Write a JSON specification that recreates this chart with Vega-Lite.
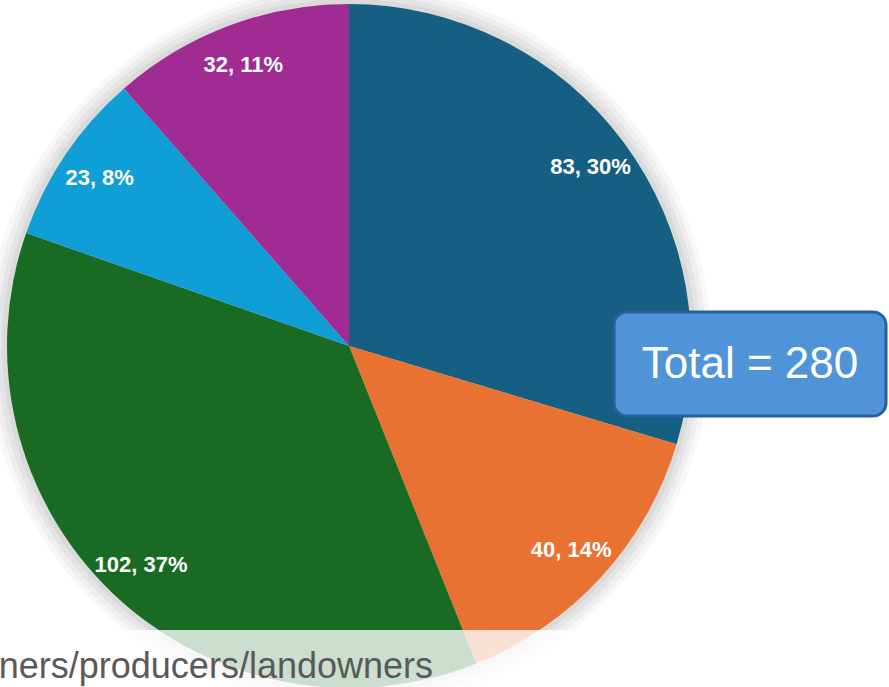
{
  "$schema": "https://vega.github.io/schema/vega-lite/v6.json",
  "width": 889,
  "height": 687,
  "padding": 0,
  "autosize": {"type": "none"},
  "background": "white",
  "config": {"view": {"stroke": null}},
  "layer": [
    {"data": {"values": [{}]}, "mark": {"type": "arc", "x": 349, "y": 346, "radius": 362, "theta": 0, "theta2": 6.2832, "fill": "black", "opacity": 0.03}, "encoding": {}},
    {"data": {"values": [{}]}, "mark": {"type": "arc", "x": 349, "y": 346, "radius": 357, "theta": 0, "theta2": 6.2832, "fill": "black", "opacity": 0.035}, "encoding": {}},
    {"data": {"values": [{}]}, "mark": {"type": "arc", "x": 349, "y": 346, "radius": 352, "theta": 0, "theta2": 6.2832, "fill": "black", "opacity": 0.04}, "encoding": {}},
    {"data": {"values": [{}]}, "mark": {"type": "arc", "x": 349, "y": 346, "radius": 347, "theta": 0, "theta2": 6.2832, "fill": "black", "opacity": 0.045}, "encoding": {}},
    {
      "data": {"name": "slices", "values": [
        {"segment": "A", "order": 1, "value": 83, "label": "83, 30%"},
        {"segment": "B", "order": 2, "value": 40, "label": "40, 14%"},
        {"segment": "C", "order": 3, "value": 102, "label": "102, 37%"},
        {"segment": "D", "order": 4, "value": 23, "label": "23, 8%"},
        {"segment": "E", "order": 5, "value": 32, "label": "32, 11%"}
      ]},
      "layer": [
        {
          "mark": {"type": "arc", "x": 349, "y": 346, "radius": 342, "stroke": null},
          "encoding": {
            "theta": {"field": "value", "type": "quantitative", "stack": true},
            "order": {"field": "order", "type": "quantitative"},
            "color": {"field": "segment", "type": "nominal", "legend": null,
              "scale": {"domain": ["A", "B", "C", "D", "E"], "range": ["#156082", "#E97132", "#196B24", "#0F9ED5", "#A02B93"]}}
          }
        },
        {
          "mark": {"type": "text", "x": 349, "y": 347, "radius": 301, "font": "Liberation Sans", "fontWeight": "bold", "fontSize": 22, "fill": "white", "align": "center", "baseline": "middle"},
          "encoding": {
            "theta": {"field": "value", "type": "quantitative", "stack": true},
            "order": {"field": "order", "type": "quantitative"},
            "text": {"field": "label", "type": "nominal"}
          }
        }
      ]
    },
    {"data": {"values": [{}]}, "mark": {"type": "rect", "x": 614, "x2": 886, "y": 312, "y2": 416, "cornerRadius": 13, "fill": "#4F94D9", "stroke": "#2A5F9E", "strokeWidth": 3}, "encoding": {}},
    {"data": {"values": [{"t": "Total = 280"}]}, "mark": {"type": "text", "x": 750, "y": 365, "font": "Liberation Sans", "fontSize": 44, "fill": "white", "align": "center", "baseline": "middle"}, "encoding": {"text": {"field": "t", "type": "nominal"}}},
    {"data": {"values": [{}]}, "mark": {"type": "rect", "x": 0, "x2": 889, "y": 630, "y2": 687, "fill": "white", "opacity": 0.78}, "encoding": {}},
    {"data": {"values": [{"t": "ners/producers/landowners"}]}, "mark": {"type": "text", "x": 433, "y": 678, "font": "Liberation Sans", "fontSize": 36, "fill": "#595959", "align": "right", "baseline": "alphabetic"}, "encoding": {"text": {"field": "t", "type": "nominal"}}}
  ]
}
